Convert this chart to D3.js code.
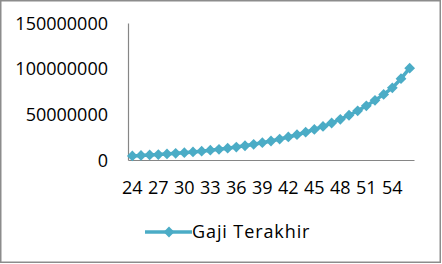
<!DOCTYPE html>
<html>
    <head>
        <meta charset="utf-8">
        <title>Gaji Terakhir</title>
        <script type="text/javascript" src="https://d3js.org/d3.v7.min.js"></script>
        <style>
            body { margin: 0; background: #fff; }
            text { font-family: "Open Sans", sans-serif; fill: #000; }
        </style>
    </head>
    <body>
        <div id="container"></div>
        <script>
        //-----------------------------DATA-----------------------------//
        const ages = [24, 25, 26, 27, 28, 29, 30, 31, 32, 33, 34, 35, 36, 37, 38, 39, 40,
                      41, 42, 43, 44, 45, 46, 47, 48, 49, 50, 51, 52, 53, 54, 55, 56];
        const gajiTerakhir = [4500000, 5000000, 5500000, 6000000, 6600000, 7300000, 8000000,
                              8800000, 9700000, 10700000, 11700000, 12900000, 14200000, 15600000,
                              17200000, 18900000, 20800000, 22900000, 25200000, 27700000, 30400000,
                              33500000, 36800000, 40500000, 44600000, 49000000, 53900000, 59300000,
                              65300000, 71800000, 79000000, 89000000, 100500000];
        const xTickLabels = [24, 27, 30, 33, 36, 39, 42, 45, 48, 51, 54];
        const yTickValues = [0, 50000000, 100000000, 150000000];
        const seriesName = "Gaji Terakhir";

        //-----------------------------SVG------------------------------//
        const width = 442;
        const height = 264;
        const color = "#4BACC6";
        const axisColor = "#868686";

        const svg = d3.select("div#container").append("svg")
            .attr("width", width)
            .attr("height", height);

        // outer frame
        svg.append("rect")
            .attr("x", 0.75)
            .attr("y", 0.75)
            .attr("width", 439.5)
            .attr("height", 261.5)
            .attr("fill", "none")
            .attr("stroke", "#8c8c8c")
            .attr("stroke-width", 1.5);

        //----------------------------SCALES----------------------------//
        const xScale = d3.scaleBand()
            .domain(ages)
            .range([128, 414]);
        const xCenter = d => xScale(d) + xScale.bandwidth() / 2;

        const yScale = d3.scaleLinear()
            .domain([0, 150000000])
            .range([160, 23]);

        //-----------------------------AXES-----------------------------//
        const yaxis = d3.axisLeft(yScale)
            .tickValues(yTickValues)
            .tickFormat(d3.format("d"))
            .tickSize(0)
            .tickPadding(20);

        const xaxis = d3.axisBottom(xScale)
            .tickValues(xTickLabels)
            .tickSize(0)
            .tickPadding(20);

        const gy = svg.append("g")
            .attr("transform", "translate(128,0)")
            .call(yaxis);
        gy.select(".domain").attr("stroke", axisColor).attr("stroke-width", 1.2);
        gy.selectAll("text")
            .style("font-size", "18px")
            .attr("dy", "0.35em");

        const gx = svg.append("g")
            .attr("transform", "translate(0,160)")
            .call(xaxis);
        gx.select(".domain").attr("stroke", axisColor).attr("stroke-width", 1.2);
        gx.selectAll("text")
            .style("font-size", "18px")
            .attr("y", 28)
            .attr("dy", "0.35em");

        //----------------------------LINES-----------------------------//
        const line = d3.line()
            .x((d, i) => xCenter(ages[i]))
            .y(d => yScale(d));

        svg.append("path")
            .datum(gajiTerakhir)
            .attr("fill", "none")
            .attr("stroke", color)
            .attr("stroke-width", 3.5)
            .attr("stroke-linejoin", "round")
            .attr("d", line);

        const diamond = d3.symbol().type(d3.symbolSquare).size(58);

        svg.append("g").selectAll("path")
            .data(gajiTerakhir)
            .enter()
            .append("path")
            .attr("d", diamond)
            .attr("fill", color)
            .attr("transform", (d, i) => "translate(" + xCenter(ages[i]) + "," + yScale(d) + ") rotate(45)");

        //---------------------------LEGEND-----------------------------//
        const legend = svg.append("g").attr("transform", "translate(145,232)");
        legend.append("line")
            .attr("x1", 0).attr("x2", 47)
            .attr("y1", 0).attr("y2", 0)
            .attr("stroke", color)
            .attr("stroke-width", 3.5);
        legend.append("path")
            .attr("d", diamond)
            .attr("fill", color)
            .attr("transform", "translate(24,0) rotate(45)");
        legend.append("text")
            .attr("x", 47)
            .attr("dy", "0.35em")
            .style("font-size", "18px")
            .style("letter-spacing", "0.9px")
            .text(seriesName);
        </script>
    </body>
</html>
